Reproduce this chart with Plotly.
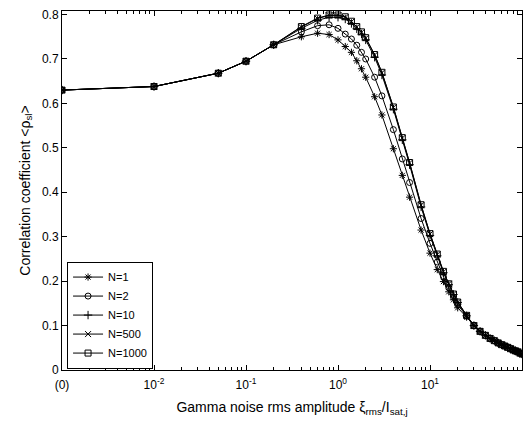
import plotly.graph_objects as go

# noise amplitude (first point 0.001 stands for the "(0)" position)
x_vals = [0.001, 0.01, 0.05, 0.1, 0.2, 0.4, 0.6, 0.8, 1.0, 1.2, 1.4, 1.6, 1.8, 2.0, 2.5,
          3, 4, 5, 6, 8, 10, 12, 14, 16, 18, 20, 25, 30, 35, 40, 45, 50, 55, 60, 65,
          70, 75, 80, 85, 90, 95, 100]

tail = [0.100, 0.087, 0.078, 0.071, 0.066, 0.061, 0.057, 0.054, 0.051, 0.048, 0.045,
        0.043, 0.041, 0.038, 0.036]
head = [0.630, 0.638, 0.668, 0.695, 0.732]

n1 = head + [0.750, 0.758, 0.755, 0.743, 0.728, 0.715, 0.696, 0.678, 0.659, 0.615,
             0.574, 0.498, 0.438, 0.389, 0.315, 0.263, 0.226, 0.199, 0.176, 0.158,
             0.140, 0.119] + tail
n2 = head + [0.761, 0.775, 0.777, 0.769, 0.756, 0.745, 0.731, 0.715, 0.700, 0.659,
             0.617, 0.541, 0.475, 0.422, 0.341, 0.285, 0.243, 0.210, 0.185, 0.164,
             0.147, 0.121] + tail
n10 = head + [0.769, 0.787, 0.794, 0.794, 0.790, 0.780, 0.768, 0.756, 0.743, 0.704,
              0.664, 0.587, 0.518, 0.462, 0.367, 0.303, 0.257, 0.219, 0.192, 0.170,
              0.152, 0.122] + tail
n500 = head + [0.772, 0.791, 0.798, 0.798, 0.794, 0.784, 0.772, 0.760, 0.747, 0.709,
               0.669, 0.591, 0.522, 0.466, 0.371, 0.306, 0.260, 0.221, 0.194, 0.171,
               0.153, 0.123] + tail
n1000 = head + [0.773, 0.792, 0.799, 0.799, 0.795, 0.785, 0.773, 0.761, 0.748, 0.710,
                0.670, 0.592, 0.523, 0.467, 0.372, 0.307, 0.261, 0.222, 0.194, 0.171,
                0.153, 0.123] + tail

series = [("N=1", n1, "asterisk-open"), ("N=2", n2, "circle-open"),
          ("N=10", n10, "cross-thin-open"), ("N=500", n500, "x-thin-open"),
          ("N=1000", n1000, "square-open")]

x_tickvals = [0.001, 0.01, 0.1, 1, 10, 100]
x_ticktext = ["(0)", "10<sup>-2</sup>", "10<sup>-1</sup>", "10<sup>0</sup>",
              "10<sup>1</sup>", "10<sup>2</sup>"]
y_tickvals = [0, 0.1, 0.2, 0.3, 0.4, 0.5, 0.6, 0.7, 0.8]
decades = [0.001, 0.01, 0.1, 1, 10]
minor_vals = [d * k for d in decades for k in range(2, 10)]

fig = go.Figure()
for name, ys, sym in series:
    fig.add_trace(go.Scatter(
        x=x_vals, y=ys, name=name, mode="lines+markers",
        line=dict(color="black", width=1),
        marker=dict(symbol=sym, size=6, color="black",
                    line=dict(color="black", width=1)),
    ))

font = dict(family="Liberation Sans, Arial, sans-serif", size=12, color="black")
fig.update_layout(
    width=531, height=429,
    margin=dict(l=62, r=8, t=9, b=59),
    paper_bgcolor="white", plot_bgcolor="white",
    font=font,
    showlegend=True,
    legend=dict(x=0.011, y=0.004, xanchor="left", yanchor="bottom",
                bordercolor="black", borderwidth=1, bgcolor="white",
                font=dict(family="Liberation Sans, Arial, sans-serif", size=11),
                tracegroupgap=0, itemwidth=30),
    xaxis=dict(type="log", range=[-3, 2], tickvals=x_tickvals, ticktext=x_ticktext,
               ticks="inside", ticklen=5, tickcolor="black", showline=True,
               linecolor="black", linewidth=1, mirror="ticks", showgrid=False,
               zeroline=False, ticklabelstandoff=4,
               minor=dict(tickmode="array", tickvals=minor_vals, ticks="inside",
                          ticklen=3, tickcolor="black", showgrid=False),
               title=dict(text="Gamma noise rms amplitude ξ<sub>rms</sub>/I<sub>sat,j</sub>",
                          standoff=10)),
    yaxis=dict(range=[0, 0.808], tickvals=y_tickvals,
               ticks="inside", ticklen=5, tickcolor="black", showline=True,
               linecolor="black", linewidth=1, mirror="ticks", showgrid=False,
               zeroline=False,
               title=dict(text="Correlation coefficient <ρ<sub>sl</sub>>", standoff=8)),
)

fig.write_html("out.html")
